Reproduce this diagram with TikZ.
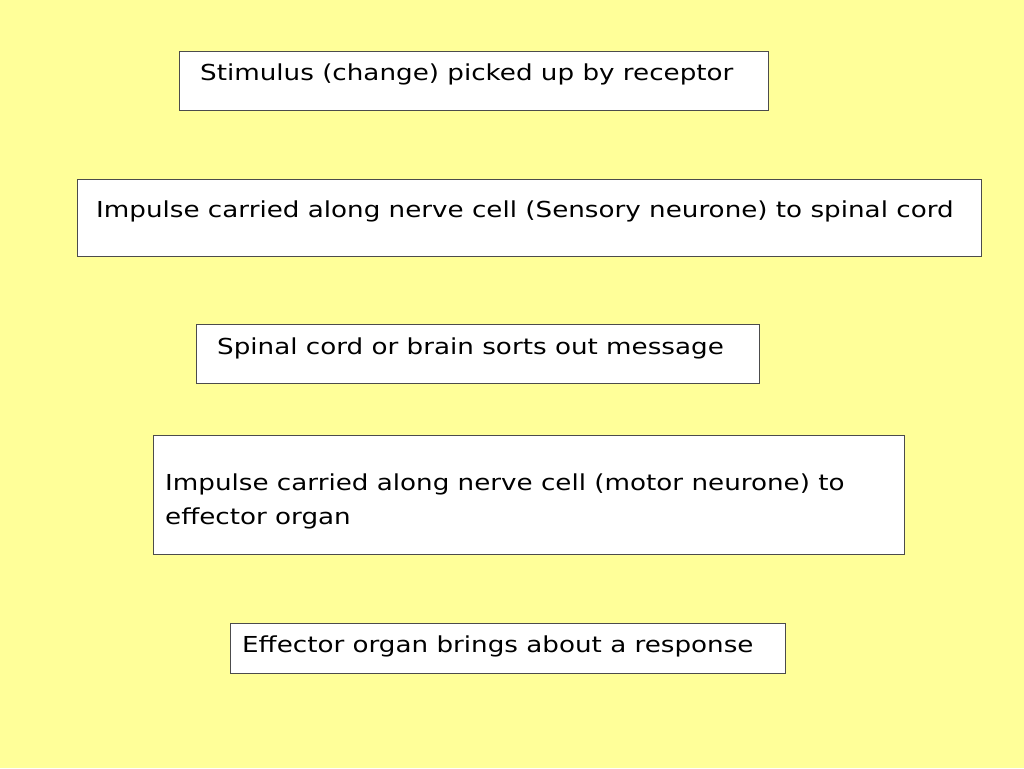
\documentclass[tikz,border=0pt]{standalone}
\usepackage{fontspec}
\setmainfont{DejaVu Sans}[FakeStretch=1.19]
\begin{document}
\begin{tikzpicture}[x=1pt,y=-1pt,
  box/.style={draw=black!70,fill=white,line width=0.8pt},
  txt/.style={anchor=west,inner sep=0pt,font=\fontsize{22}{34}\selectfont,align=left}]
\fill[fill={rgb,255:red,255;green,255;blue,153}] (0,0) rectangle (1024,768);
\useasboundingbox (0,0) rectangle (1024,768);
\draw[box] (179,51) rectangle (768,110);
\node[txt] (t1) at (200,74) {Stimulus (change) picked up by receptor};
\draw[box] (77,179) rectangle (981,256);
\node[txt] (t2) at (96,211) {Impulse carried along nerve cell (Sensory neurone) to spinal cord};
\draw[box] (196,324) rectangle (759,383);
\node[txt] (t3) at (217,348) {Spinal cord or brain sorts out message};
\draw[box] (153,435) rectangle (904,554);
\node[txt] (t4) at (165,501) {Impulse carried along nerve cell (motor neurone) to\\effector organ};
\draw[box] (230,623) rectangle (785,673);
\node[txt] (t5) at (242,646) {Effector organ brings about a response};
\end{tikzpicture}
\end{document}
